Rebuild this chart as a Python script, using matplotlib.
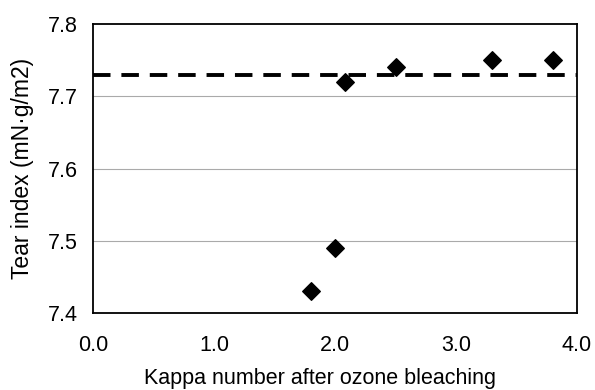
import matplotlib
matplotlib.use('Agg')
import matplotlib.pyplot as plt

plt.rcParams['font.family'] = ['Liberation Sans', 'DejaVu Sans']

# data
kappa = [1.8, 2.0, 2.08, 2.5, 3.3, 3.8]
tear = [7.43, 7.49, 7.72, 7.74, 7.75, 7.75]
reference_tear = 7.73

x_ticks = [0.0, 1.0, 2.0, 3.0, 4.0]
y_ticks = [7.4, 7.5, 7.6, 7.7, 7.8]

fig = plt.figure(figsize=(5.95, 3.9), dpi=100)
ax = fig.add_axes([93 / 595, 1 - 313 / 390, (577 - 93) / 595, (313 - 24) / 390])

for y in y_ticks[1:-1]:
    ax.axhline(y, color='#aaaaaa', lw=0.8, zorder=1)

ax.axhline(reference_tear, color='black', lw=2.8, dashes=(4.5, 2.8), zorder=2)
ax.scatter(kappa, tear, marker='D', s=80, color='black', zorder=3)

ax.set_xlim(0, 4)
ax.set_ylim(7.4, 7.8)
ax.set_xticks(x_ticks)
ax.set_xticklabels([f'{v:.1f}' for v in x_ticks])
ax.set_yticks(y_ticks)
ax.set_yticklabels([f'{v:.1f}' for v in y_ticks])
ax.tick_params(length=0, labelsize=15.5)
ax.tick_params(axis='x', pad=16)
ax.tick_params(axis='y', pad=11)

for s in ax.spines.values():
    s.set_linewidth(1.3)

ax.set_xlabel('Kappa number after ozone bleaching', fontsize=15.5)
ax.xaxis.set_label_coords(0.469, -0.19)
ax.set_ylabel('Tear index (mN·g/m2)', fontsize=16.5, labelpad=10)

fig.savefig('out.png', dpi=100)
